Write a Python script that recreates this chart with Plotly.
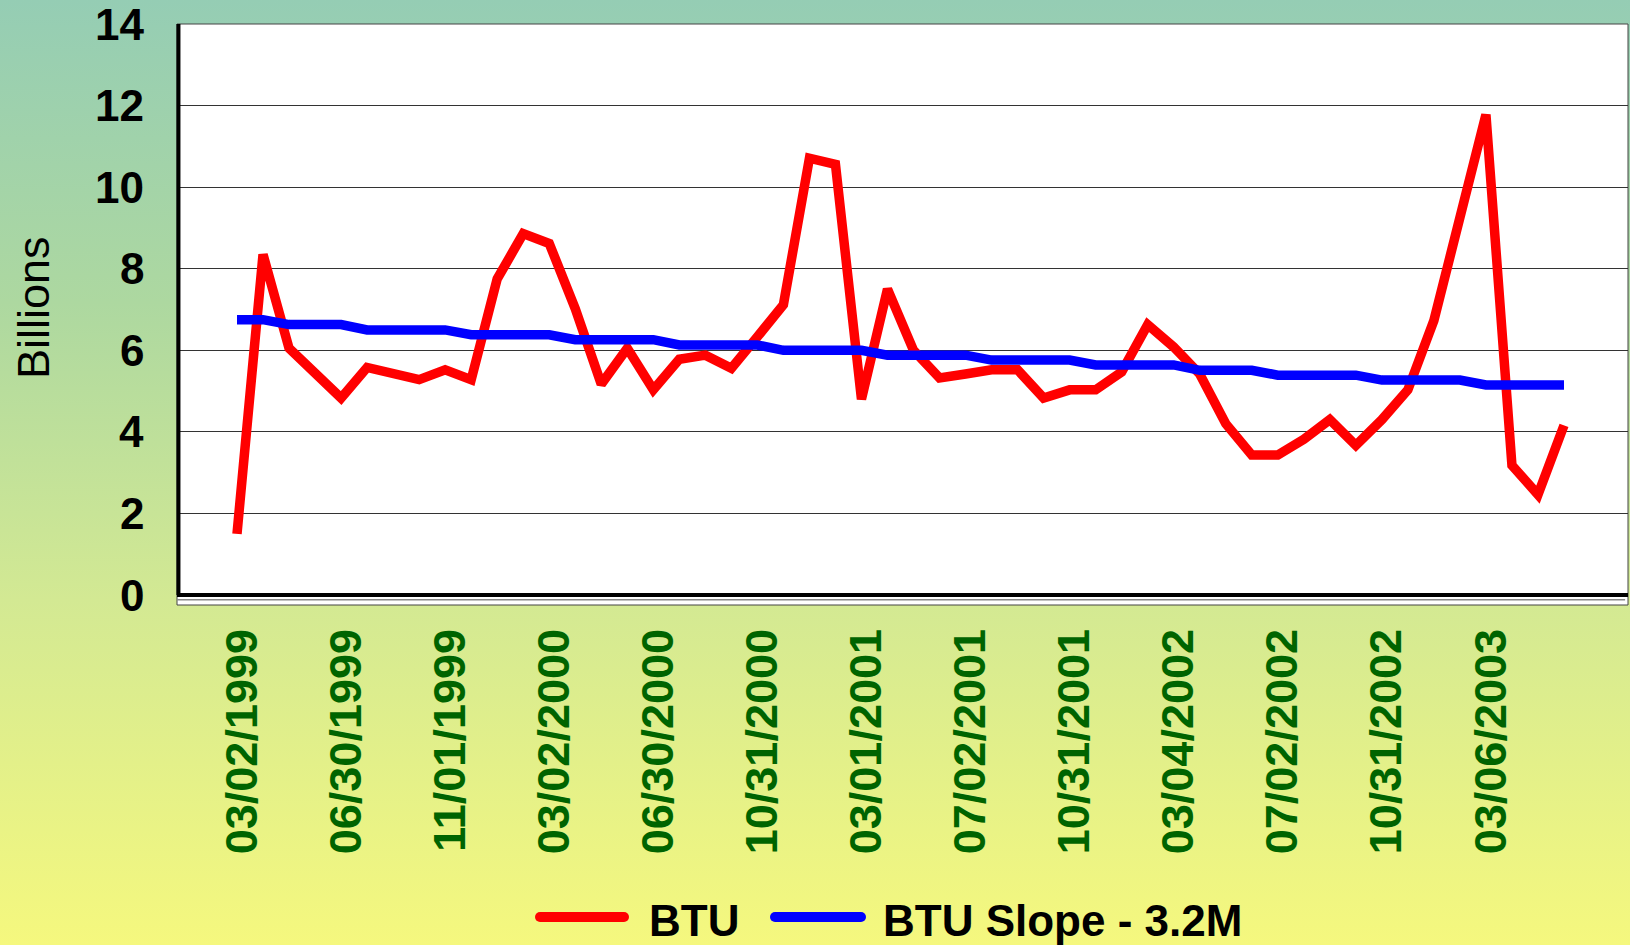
import base64
import plotly.graph_objects as go

# ---- data ----
tick_labels = ["03/02/1999", "06/30/1999", "11/01/1999", "03/02/2000", "06/30/2000",
               "10/31/2000", "03/01/2001", "07/02/2001", "10/31/2001", "03/04/2002",
               "07/02/2002", "10/31/2002", "03/06/2003"]
tick_index = [0, 4, 8, 12, 16, 20, 24, 28, 32, 36, 40, 44, 48]

btu = [1.5, 8.35, 6.05, 5.45, 4.83, 5.58, 5.45, 5.28, 5.52, 5.28,
       7.75, 8.86, 8.62, 7.02, 5.17, 6.05, 5.03, 5.78, 5.88, 5.56,
       6.33, 7.12, 10.71, 10.56, 4.8, 7.5, 6.0, 5.32, 5.42, 5.52,
       5.52, 4.83, 5.03, 5.03, 5.47, 6.63, 6.08, 5.42, 4.2, 3.43,
       3.43, 3.82, 4.3, 3.67, 4.3, 5.03, 6.73, 9.3, 11.78, 3.18,
       2.46, 4.16]

btu_slope = [6.75, 6.75, 6.63, 6.63, 6.63, 6.50, 6.50, 6.50, 6.50, 6.38,
             6.38, 6.38, 6.38, 6.26, 6.26, 6.26, 6.26, 6.13, 6.13, 6.13,
             6.13, 6.00, 6.00, 6.00, 6.00, 5.88, 5.88, 5.88, 5.88, 5.76,
             5.76, 5.76, 5.76, 5.64, 5.64, 5.64, 5.64, 5.51, 5.51, 5.51,
             5.39, 5.39, 5.39, 5.39, 5.27, 5.27, 5.27, 5.27, 5.15, 5.15,
             5.15, 5.15]

y_ticks = [0, 2, 4, 6, 8, 10, 12, 14]

series_names = ["BTU", "BTU Slope - 3.2M"]
series_colors = ["#FF0000", "#0000FF"]

x_idx = list(range(len(btu)))

# ---- layout geometry ----
W, H = 1630, 945
ML, MR, MT, MB = 177, 2, 24, 340
PW, PH = W - ML - MR, H - MT - MB


def px_x(p):
    return (p - ML) / PW


def px_y(p):
    return (H - MB - p) / PH


FONT = "Liberation Sans, Arial, sans-serif"

svg = f'''<svg xmlns="http://www.w3.org/2000/svg" width="{W}" height="{H}" viewBox="0 0 {W} {H}" preserveAspectRatio="none">
<defs><linearGradient id="g" x1="0" y1="0" x2="0" y2="1">
<stop offset="0" stop-color="#95CDB4"/>
<stop offset="0.32" stop-color="#ADD8A0"/>
<stop offset="0.635" stop-color="#D3E993"/>
<stop offset="1" stop-color="#F5F87E"/>
</linearGradient></defs>
<rect x="0" y="0" width="{W}" height="{H}" fill="url(#g)"/></svg>'''
bg_uri = "data:image/svg+xml;base64," + base64.b64encode(svg.encode()).decode()

LW = 9.5

fig = go.Figure()
fig.add_trace(go.Scatter(x=x_idx, y=btu, mode="lines", name=series_names[0],
                         line=dict(color=series_colors[0], width=LW), showlegend=False))
fig.add_trace(go.Scatter(x=x_idx, y=btu_slope, mode="lines", name=series_names[1],
                         line=dict(color=series_colors[1], width=LW), showlegend=False))

shapes = [
    # white plot panel with thin border
    dict(type="rect", xref="paper", yref="paper", x0=0, x1=1, y0=0, y1=1,
         fillcolor="white", line=dict(color="#444444", width=1), layer="below"),
    # thick left axis line
    dict(type="line", xref="paper", yref="y", x0=0.001, x1=0.001, y0=0, y1=14,
         line=dict(color="black", width=4), layer="above"),
    # grey shadow line below the baseline
    dict(type="line", xref="paper", yref="y", x0=0, x1=0.998, y0=-0.115, y1=-0.115,
         line=dict(color="#888888", width=1.5), layer="above"),
]
annotations = [
    dict(text="Billions", xref="paper", yref="paper", x=px_x(33), y=px_y(308),
         xanchor="center", yanchor="middle", textangle=-90, showarrow=False,
         font=dict(family=FONT, size=45, color="black")),
]

# manual legend (long rounded line samples like the reference)
legend_lines = [(540, 624), (775, 861)]
legend_text_x = [647, 881]
LEG_Y = 917
for (a, b), tx, name, col in zip(legend_lines, legend_text_x, series_names, series_colors):
    shapes.append(dict(type="line", xref="paper", yref="paper",
                       x0=px_x(a), x1=px_x(b), y0=px_y(LEG_Y), y1=px_y(LEG_Y),
                       line=dict(color=col, width=10)))
    for end in (a, b):
        shapes.append(dict(type="circle", xref="paper", yref="paper",
                           xsizemode="pixel", ysizemode="pixel",
                           xanchor=px_x(end), yanchor=px_y(LEG_Y),
                           x0=-5, x1=5, y0=-5, y1=5,
                           fillcolor=col, line=dict(width=0)))
    annotations.append(dict(text=name, xref="paper", yref="paper",
                            x=px_x(tx), y=px_y(LEG_Y + 3), xanchor="left", yanchor="middle",
                            showarrow=False,
                            font=dict(family=FONT, size=44, color="black", weight="bold")))

# y-axis labels drawn as annotations anchored at each tick value (so the top "14" is kept)
for v in y_ticks:
    annotations.append(dict(text=str(v), xref="paper", yref="y", x=px_x(146), y=v,
                            xanchor="right", yanchor="middle", showarrow=False,
                            font=dict(family=FONT, size=44, color="black", weight="bold")))

fig.update_layout(
    width=W, height=H,
    margin=dict(l=ML, r=MR, t=MT, b=MB, pad=0),
    paper_bgcolor="#D3E993",
    plot_bgcolor="rgba(0,0,0,0)",
    font=dict(family=FONT, color="black"),
    showlegend=False,
    images=[dict(source=bg_uri, xref="paper", yref="paper",
                 x=-ML / PW, y=1 + MT / PH, sizex=W / PW, sizey=H / PH,
                 xanchor="left", yanchor="top", sizing="stretch", layer="below")],
    shapes=shapes,
    annotations=annotations,
)

fig.update_xaxes(
    range=[-2.306, 53.46], showgrid=False, zeroline=False, showline=False,
    tickmode="array", tickvals=tick_index, ticktext=tick_labels,
    tickangle=-90, ticks="", ticklabelstandoff=14, ticklabelshift=5,
    tickfont=dict(family=FONT, size=45, color="#006400", weight="bold"),
)
fig.update_yaxes(
    range=[-0.245, 14], tickmode="array", tickvals=y_ticks,
    showgrid=True, gridcolor="#333333", gridwidth=1,
    zeroline=True, zerolinecolor="black", zerolinewidth=4,
    showline=False, ticks="", showticklabels=False,
)

fig.write_html("out.html", config={"displayModeBar": False},
               post_script="document.body.style.margin='0';document.body.style.overflow='hidden';")
